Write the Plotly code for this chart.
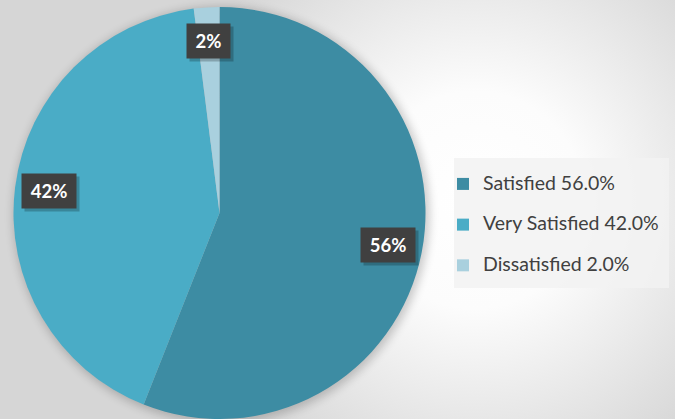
import base64
import math
import plotly.graph_objects as go

# ---- data ----
categories = ["Satisfied", "Very Satisfied", "Dissatisfied"]
values = [56.0, 42.0, 2.0]

# ---- style ----
slice_colors = ["#3D8CA3", "#4AACC6", "#A9D0DE"]
W, H = 675, 419
FONT = "Lato, 'Open Sans', sans-serif"

# pie placement (pixels)
pie_cx, pie_cy, pie_r = 219.5, 213.0, 206.0
dom_x = [(pie_cx - pie_r) / W, (pie_cx + pie_r) / W]
dom_y = [(H - pie_cy - pie_r) / H, (H - pie_cy + pie_r) / H]

total = sum(values)
legend_labels = []
for i, (c, v) in enumerate(zip(categories, values)):
    pct = 100 * v / total
    txt = f"<span style='font-size:19.5px'>{c} {pct:.1f}%</span>"
    if i < len(categories) - 1:
        txt += "<br> "
    legend_labels.append(txt)

fig = go.Figure(
    go.Pie(
        labels=legend_labels,
        values=values,
        sort=False,
        direction="clockwise",
        rotation=0,
        marker=dict(colors=slice_colors, line=dict(width=0)),
        textinfo="none",
        hoverinfo="skip",
        domain=dict(x=dom_x, y=dom_y),
    )
)

# data labels placed along each slice bisector
annotations = []
cum = 0.0
for v in values:
    frac_mid = (cum + v / 2) / total
    cum += v
    theta = 2 * math.pi * frac_mid
    rl = 0.835 * pie_r
    px = pie_cx + rl * math.sin(theta)
    py = pie_cy - rl * math.cos(theta)
    xp, yp = px / W, 1 - py / H
    pct_txt = f"{round(100 * v / total):.0f}%"
    box_w = 11 * (len(pct_txt) - 1) + 18
    common = dict(x=xp, y=yp, xref="paper", yref="paper", showarrow=False,
                  xanchor="center", yanchor="middle", borderpad=7,
                  width=box_w, height=20, align="center", valign="middle")
    annotations.append(dict(common, text=" ", bgcolor="rgba(0,0,0,0.22)",
                            font=dict(family=FONT, size=18.5, color="rgba(0,0,0,0)"),
                            xshift=3, yshift=-3))
    annotations.append(dict(common, text=f"<b>{pct_txt}</b>", bgcolor="#404040",
                            font=dict(family=FONT, size=18.5, color="#FFFFFF")))

# background: radial gradient + soft shadow under pie
svg = f"""<svg xmlns='http://www.w3.org/2000/svg' width='{W}' height='{H}'>
<defs>
<radialGradient id='g' gradientUnits='userSpaceOnUse' cx='475' cy='200' r='310'>
<stop offset='0' stop-color='#ffffff'/>
<stop offset='0.35' stop-color='#fcfcfc'/>
<stop offset='1' stop-color='#d6d6d6'/>
</radialGradient>
<filter id='b' x='-20%' y='-20%' width='140%' height='140%'><feGaussianBlur stdDeviation='5'/></filter>
</defs>
<rect width='{W}' height='{H}' fill='url(#g)'/>
<circle cx='{pie_cx + 2}' cy='{pie_cy + 2}' r='{pie_r + 2}' fill='#000' opacity='0.2' filter='url(#b)'/>
</svg>"""
src = "data:image/svg+xml;base64," + base64.b64encode(svg.encode()).decode()

fig.update_layout(
    width=W,
    height=H,
    margin=dict(l=0, r=0, t=0, b=0),
    paper_bgcolor="#d6d6d6",
    font=dict(family=FONT, color="#404040"),
    images=[dict(source=src, xref="paper", yref="paper", x=0, y=1,
                 sizex=1, sizey=1, sizing="stretch", layer="below",
                 xanchor="left", yanchor="top")],
    shapes=[dict(type="rect", xref="paper", yref="paper",
                 x0=454 / W, x1=669 / W, y0=1 - 288 / H, y1=1 - 158 / H,
                 fillcolor="rgba(242,242,242,0.85)", line=dict(width=0),
                 layer="above")],
    showlegend=True,
    legend=dict(
        x=443 / W, y=1 - 168 / H, xanchor="left", yanchor="top",
        bgcolor="rgba(0,0,0,0)", borderwidth=0,
        font=dict(family=FONT, size=14.5, color="#404040"),
        valign="top", itemclick=False, itemdoubleclick=False,
    ),
    annotations=annotations,
)

fig.write_html(
    "out.html",
    config={"displayModeBar": False},
    post_script="document.body.style.margin='0';document.body.style.overflow='hidden';",
)
